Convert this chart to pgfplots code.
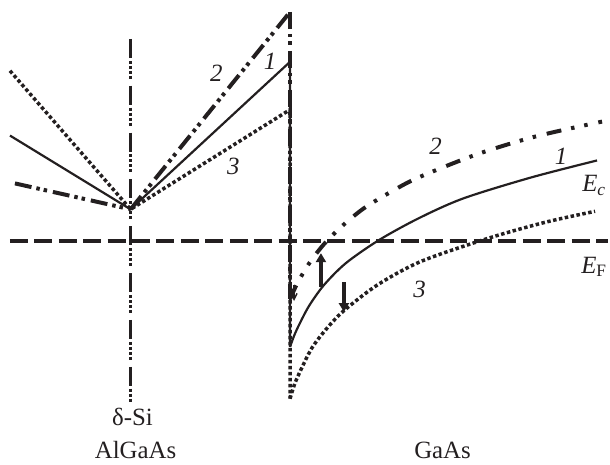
\documentclass[border=0pt]{standalone}
\usepackage{pgfplots}
\pgfplotsset{compat=1.18}
\usepackage{fontspec}
\setmainfont{Liberation Serif}
\usetikzlibrary{arrows.meta}
\definecolor{ink}{HTML}{231F20}
\tikzset{
 c1/.style={ink, line width=2.2bp},
 c3/.style={ink, line width=3.5bp, dash pattern=on 3.5bp off 2.5bp},
 c2/.style={ink, line width=4bp, dash pattern=on 17bp off 5bp on 3.5bp off 4bp on 3.5bp off 6bp},
 c2w/.style={ink, line width=4bp, dash pattern=on 15bp off 10bp on 3.5bp off 10bp on 3.5bp off 11bp},
 ef/.style={ink, line width=4bp, dash pattern=on 18bp off 6.5bp},
 delta/.style={ink, line width=3.4bp, dash pattern=on 19bp off 3bp on 3bp off 2bp on 3bp off 2bp on 3bp off 2bp on 3bp off 7bp},
 lab/.style={font=\fontsize{25}{30}\selectfont, inner sep=0pt, text=ink},
}
\begin{document}
\begin{tikzpicture}
\begin{axis}[
  width=610bp, height=466bp, scale only axis,
  xmin=0, xmax=610, ymin=0, ymax=466, y dir=reverse,
  hide axis, clip=false,
  every axis plot/.append style={line cap=butt, line join=miter},
]
\addplot[draw=none] coordinates {(0,0) (610,466)};
% Fermi level
\addplot[ef] coordinates {(10,242) (610,242)};
% delta-Si plane
\addplot[delta] coordinates {(131,39) (131,403)};
% curve 3 (dotted)
\addplot[c3] coordinates {(10,71) (131,210) (291,110) (291,400)};
\addplot[c3, smooth] coordinates {(291,400) (295,387) (300,375) (313,349) (330,327) (347,310) (380,285) (423,262) (490,239) (547,223) (597,212)};
% curve 1 (solid)
\addplot[c1] coordinates {(10,136) (131,210) (291,62) (291,348)};
\addplot[c1, smooth] coordinates {(291,348) (295,337) (300,326) (310,307) (325,286) (347,264) (380,241) (420,219) (465,199) (533,178) (599,161)};
% curve 2 (dash-dot-dot)
\addplot[c2] coordinates {(15,184) (131,210)};
\addplot[c2] coordinates {(131,210) (291,12)};
\addplot[c2] coordinates {(291,12) (291,300)};
\addplot[c2w, smooth] coordinates {(291,300) (295,291) (300,281) (311,263) (325,245) (343,227) (365,209) (393,192) (420,178) (478,155) (537,137) (604,122)};
% arrows
\addplot[ink, line width=3.5bp, -{Triangle[length=9bp,width=10bp]}] coordinates {(322,288) (322,254)};
\addplot[ink, line width=3.5bp, -{Triangle[length=9bp,width=10bp]}] coordinates {(345,283) (345,313)};
\addplot[ink, line width=1.5bp, -{Straight Barb[length=6bp,width=6bp]}] coordinates {(295,286) (295,302)};
% labels
\node[lab, anchor=base] at (axis cs:133,427) {δ-Si};
\node[lab, anchor=base] at (axis cs:136,460) {AlGaAs};
\node[lab, anchor=base] at (axis cs:444,460) {GaAs};
\node[lab, anchor=base] at (axis cs:271,70) {\itshape 1};
\node[lab, anchor=base] at (axis cs:217,82) {\itshape 2};
\node[lab, anchor=base] at (axis cs:234,175) {\itshape 3};
\node[lab, anchor=base] at (axis cs:437,155) {\itshape 2};
\node[lab, anchor=base] at (axis cs:563,165) {\itshape 1};
\node[lab, anchor=base] at (axis cs:421,298) {\itshape 3};
\node[lab, anchor=base west] at (axis cs:584,192) {\itshape E\textsubscript{c}};
\node[lab, anchor=base west, overlay] at (axis cs:583,274) {\textit{E}\textsubscript{F}};
\end{axis}
\end{tikzpicture}
\end{document}
